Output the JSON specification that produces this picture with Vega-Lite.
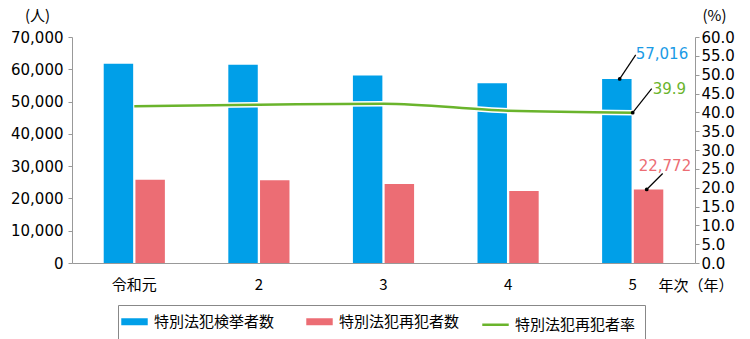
{
  "$schema": "https://vega.github.io/schema/vega-lite/v6.json",
  "width": 623,
  "height": 226,
  "autosize": {"type": "none"},
  "padding": {"left": 72, "top": 37, "right": 55, "bottom": 76},
  "config": {
    "font": "Noto Sans CJK JP",
    "view": {"stroke": null},
    "axis": {
      "labelFont": "DejaVu Sans",
      "labelFontSize": 15,
      "labelColor": "#000",
      "titleFont": "Noto Sans CJK JP",
      "titleFontSize": 15,
      "titleFontWeight": "normal",
      "titleColor": "#000",
      "domainColor": "#999",
      "tickColor": "#999",
      "grid": false
    }
  },
  "datasets": {
    "counts": [
      {"year": "令和元", "series": "特別法犯検挙者数", "value": 61700},
      {"year": "令和元", "series": "特別法犯再犯者数", "value": 25800},
      {"year": "2", "series": "特別法犯検挙者数", "value": 61400},
      {"year": "2", "series": "特別法犯再犯者数", "value": 25600},
      {"year": "3", "series": "特別法犯検挙者数", "value": 58100},
      {"year": "3", "series": "特別法犯再犯者数", "value": 24500},
      {"year": "4", "series": "特別法犯検挙者数", "value": 55700},
      {"year": "4", "series": "特別法犯再犯者数", "value": 22300},
      {"year": "5", "series": "特別法犯検挙者数", "value": 57016},
      {"year": "5", "series": "特別法犯再犯者数", "value": 22772}
    ],
    "rates": [
      {"year": "令和元", "series": "特別法犯再犯者率", "value": 41.6},
      {"year": "2", "series": "特別法犯再犯者率", "value": 42.0},
      {"year": "3", "series": "特別法犯再犯者率", "value": 42.3},
      {"year": "4", "series": "特別法犯再犯者率", "value": 40.4},
      {"year": "5", "series": "特別法犯再犯者率", "value": 39.9}
    ]
  },
  "encoding": {
    "x": {
      "field": "year",
      "type": "nominal",
      "sort": null,
      "scale": {"domain": ["令和元", "2", "3", "4", "5"], "paddingInner": 0, "paddingOuter": 0},
      "axis": {
        "labelAngle": 0,
        "ticks": false,
        "labelPadding": 14,
        "labelFont": "Noto Sans CJK JP",
        "labelFontSize": 15,
        "title": "年次（年）",
        "titleX": 623.5,
        "titleY": 22,
        "titleAlign": "center",
        "titleBaseline": "middle"
      }
    }
  },
  "layer": [
    {
      "data": {"name": "counts"},
      "encoding": {
        "y": {
          "field": "value",
          "type": "quantitative",
          "scale": {"domain": [0, 70000], "nice": false},
          "axis": {
            "orient": "left",
            "values": [0, 10000, 20000, 30000, 40000, 50000, 60000, 70000],
            "format": ",d",
            "tickSize": 4,
            "labelPadding": 5,
            "title": "(人)",
            "titleAngle": 0,
            "titleX": -35,
            "titleY": -22,
            "titleAlign": "center",
            "titleBaseline": "middle"
          }
        }
      },
      "layer": [
        {
          "mark": {"type": "bar"},
          "encoding": {
            "xOffset": {
              "field": "series",
              "sort": ["特別法犯検挙者数", "特別法犯再犯者数"],
              "scale": {"domain": ["特別法犯検挙者数", "特別法犯再犯者数"], "paddingInner": 0.0714, "paddingOuter": 1.26}
            },
            "color": {
              "field": "series",
              "type": "nominal",
              "scale": {
                "domain": ["特別法犯検挙者数", "特別法犯再犯者数", "特別法犯再犯者率"],
                "range": ["#009fe8", "#ec6d74", "#6ab42c"]
              },
              "legend": {
                "orient": "none",
                "legendX": 46,
                "legendY": 268,
                "direction": "horizontal",
                "title": null,
                "strokeColor": "#888",
                "padding": 9,
                "labelFontSize": 15,
                "labelColor": "#000",
                "labelFont": "Noto Sans CJK JP",
                "symbolSize": 700,
                "symbolType": "stroke",
                "labelOffset": 12,
                "columnPadding": 17,
                "encode": {
                  "symbols": {
                    "update": {
                      "shape": {"value": "stroke"},
                      "fill": {"value": "transparent"},
                      "stroke": {"signal": "scale('color', datum.value)"},
                      "strokeWidth": {"signal": "datum.value === '特別法犯再犯者率' ? 2.5 : 7"},
                      "opacity": {"value": 1}
                    }
                  }
                }
              }
            }
          }
        },
        {
          "transform": [{"filter": "datum.year === '5' && datum.series === '特別法犯検挙者数'"}],
          "mark": {"type": "text", "align": "left", "baseline": "middle", "dx": 3, "dy": -25, "font": "DejaVu Sans", "fontSize": 15, "color": "#1a9be6"},
          "encoding": {"text": {"field": "value", "format": ","}}
        },
        {
          "transform": [{"filter": "datum.year === '5' && datum.series === '特別法犯再犯者数'"}],
          "mark": {"type": "text", "align": "left", "baseline": "middle", "dx": 6, "dy": -23, "font": "DejaVu Sans", "fontSize": 15, "color": "#ec6d74"},
          "encoding": {"text": {"field": "value", "format": ","}}
        },
        {
          "transform": [{"filter": "datum.year === '5' && datum.series === '特別法犯検挙者数'"}],
          "mark": {"type": "rule", "color": "#000", "strokeWidth": 1.2, "xOffset": -13, "x2Offset": 3, "y2Offset": -24},
          "encoding": {"x2": {"field": "year"}, "y2": {"field": "value"}}
        },
        {
          "transform": [{"filter": "datum.year === '5' && datum.series === '特別法犯再犯者数'"}],
          "mark": {"type": "rule", "color": "#000", "strokeWidth": 1.2, "xOffset": 14, "x2Offset": 30, "y2Offset": -16},
          "encoding": {"x2": {"field": "year"}, "y2": {"field": "value"}}
        },
        {
          "transform": [{"filter": "datum.year === '5'"}],
          "mark": {"type": "point", "filled": true, "color": "#000", "size": 14, "opacity": 1, "xOffset": {"expr": "datum.series === '特別法犯検挙者数' ? -13 : 14"}},
          "encoding": {}
        }
      ]
    },
    {
      "data": {"name": "rates"},
      "encoding": {
        "y": {
          "field": "value",
          "type": "quantitative",
          "scale": {"domain": [0, 60], "nice": false},
          "axis": {
            "orient": "right",
            "values": [0, 5, 10, 15, 20, 25, 30, 35, 40, 45, 50, 55, 60],
            "format": ".1f",
            "tickSize": 4,
            "labelPadding": 2,
            "title": "(%)",
            "titleAngle": 0,
            "titleX": 19,
            "titleY": -22,
            "titleAlign": "center",
            "titleBaseline": "middle"
          }
        }
      },
      "layer": [
        {
          "mark": {"type": "line", "interpolate": "monotone", "color": "#fff", "strokeWidth": 5.5},
          "encoding": {}
        },
        {
          "mark": {"type": "line", "interpolate": "monotone", "strokeWidth": 2.5},
          "encoding": {"color": {"field": "series", "type": "nominal"}}
        },
        {
          "transform": [{"filter": "datum.year === '5'"}],
          "mark": {"type": "text", "align": "left", "baseline": "middle", "dx": 20, "dy": -24, "font": "DejaVu Sans", "fontSize": 15, "color": "#6ab42c"},
          "encoding": {"text": {"field": "value", "format": ".1f"}}
        },
        {
          "transform": [{"filter": "datum.year === '5'"}],
          "mark": {"type": "rule", "color": "#000", "strokeWidth": 1.2, "x2Offset": 19, "y2Offset": -24},
          "encoding": {"x2": {"field": "year"}, "y2": {"field": "value"}}
        },
        {
          "transform": [{"filter": "datum.year === '5'"}],
          "mark": {"type": "point", "filled": true, "color": "#000", "size": 14, "opacity": 1},
          "encoding": {}
        }
      ]
    }
  ],
  "resolve": {"scale": {"y": "independent"}}
}
